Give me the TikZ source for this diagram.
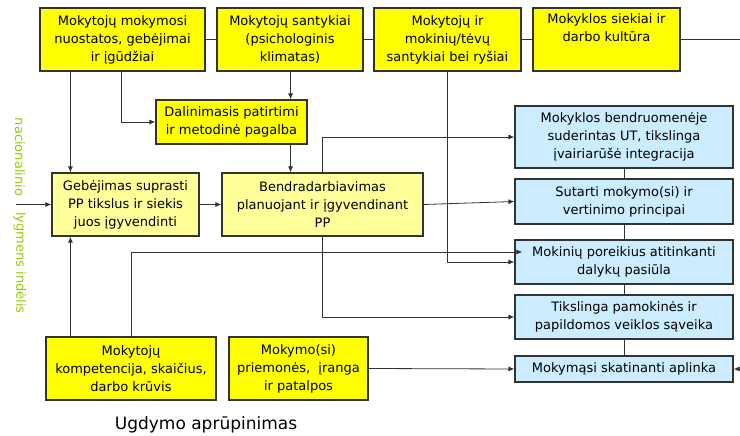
\documentclass[tikz,border=0pt]{standalone}
\usepackage{fontspec}
\setmainfont{DejaVu Sans}
\usetikzlibrary{arrows.meta}
\definecolor{ryellow}{HTML}{FFFF00}
\definecolor{pyellow}{HTML}{FFFF99}
\definecolor{lblue}{HTML}{CCECFF}
\definecolor{lgreen}{HTML}{99CC00}
\definecolor{dgray}{HTML}{333333}
\tikzset{box/.style = {draw = dgray, line width = 1.2pt, inner sep = 0, align = center, font = \fontsize{13}{18}\selectfont}}
\tikzset{ybox/.style = {box, fill = ryellow}}
\tikzset{pbox/.style = {box, fill = pyellow}}
\tikzset{bbox/.style = {box, fill = lblue, minimum width = 218}}
\tikzset{gtext/.style = {text = lgreen, rotate = -90, inner sep = 0, font = \fontsize{13}{18}\selectfont}}
\tikzset{conn/.style = {draw = dgray, line width = 0.8pt}}
\tikzset{arr/.style = {conn, -{Latex[length = 6pt, width = 5pt]}}}

\begin{document}
\begin{tikzpicture}[x = 1pt, y = -1pt]
      \useasboundingbox (0, 0) rectangle (740, 436);

      % top row
      \node [ybox, minimum width = 165, minimum height = 63] (nuostatos) at (122.5, 39.5) {Mokytojų mokymosi\\nuostatos, gebėjimai\\ir įgūdžiai};
      \node [ybox, minimum width = 146, minimum height = 63] (santykiai) at (290, 39.5) {Mokytojų santykiai\\(psichologinis\\klimatas)};
      \node [ybox, minimum width = 147, minimum height = 63] (rysiai) at (447.5, 39.5) {Mokytojų ir\\mokinių/tėvų\\santykiai bei ryšiai};
      \node [ybox, minimum width = 147, minimum height = 63] (siekiai) at (606.5, 39.5) {Mokyklos siekiai ir\\darbo kultūra\\\strut};

      % middle
      \node [ybox, minimum width = 151, minimum height = 44] (dalinimasis) at (231.5, 122) {Dalinimasis patirtimi\\ir metodinė pagalba};
      \node [pbox, minimum width = 147, minimum height = 63] (gebejimas) at (125.5, 204.5) {Gebėjimas suprasti\\PP tikslus ir siekis\\juos įgyvendinti};
      \node [pbox, minimum width = 201, minimum height = 63] (bendradarb) at (322.5, 204.5) {Bendradarbiavimas\\planuojant ir įgyvendinant\\PP};

      % results
      \node [bbox, minimum height = 62] (ut) at (624, 137) {Mokyklos bendruomenėje\\suderintas UT, tikslinga\\įvairiarūšė integracija};
      \node [bbox, minimum height = 45] (principai) at (624, 201.5) {Sutarti mokymo(si) ir\\vertinimo principai};
      \node [bbox, minimum height = 44] (pasiula) at (624, 262) {Mokinių poreikius atitinkanti\\dalykų pasiūla};
      \node [bbox, minimum height = 44] (saveika) at (624, 317) {Tikslinga pamokinės ir\\papildomos veiklos sąveika};
      \node [bbox, minimum height = 26] (aplinka) at (624, 369) {Mokymąsi skatinanti aplinka};

      % bottom row
      \node [ybox, minimum width = 170, minimum height = 63] (kompetencija) at (131, 368.5) {Mokytojų\\kompetencija, skaičius,\\darbo krūvis};
      \node [ybox, minimum width = 139, minimum height = 63] (priemones) at (298.5, 368.5) {Mokymo(si)\\priemonės, \ įranga\\ir patalpos};
      \node [font = \fontsize{17}{20}\selectfont] (aprupinimas) at (206, 425) {Ugdymo aprūpinimas};

      % left side
      \node [gtext] (nacionalinio) at (20, 157) {nacionalinio};
      \node [gtext] (indelis) at (20, 263) {lygmens indėlis};
      \coordinate (nacin) at (16, 204.5);
      \coordinate (desine) at (740, 39.5);
      \coordinate (atgal) at (740, 369);

      \draw [conn] (nuostatos) -- (santykiai);
      \draw [conn] (santykiai) -- (rysiai);
      \draw [conn] (rysiai) -- (siekiai);
      \draw [conn] (siekiai) -- (desine);
      \foreach \a/\b in {ut/principai, principai/pasiula, pasiula/saveika, saveika/aplinka} {
        \draw [conn] (\a.south) -- (\b.north);
      }

      \draw [arr] ([xshift = 19pt]gebejimas.north west |- nuostatos.south) -- ([xshift = 19pt]gebejimas.north west);
      \draw [arr] ([xshift = 82pt]nuostatos.south west) |- (dalinimasis.west);
      \draw [arr] ([xshift = -17pt]dalinimasis.north east |- santykiai.south) -- ([xshift = -17pt]dalinimasis.north east);
      \draw [arr] ([xshift = -17pt]dalinimasis.south east) -- ([xshift = -17pt]dalinimasis.south east |- bendradarb.north);
      \draw [arr] (nacin) -- (gebejimas.west);
      \draw [arr] (gebejimas.east) -- (bendradarb.west);
      \draw [arr] ([xshift = 101pt]bendradarb.north west) |- (ut.west);
      \draw [arr] (bendradarb.east) -- (principai.west);
      \draw [arr] (rysiai.south) |- (pasiula.west);
      \draw [arr] ([xshift = 86pt]kompetencija.north west) |- ([xshift = 8pt, yshift = 10pt]pasiula.west);
      \draw [arr] ([xshift = 101pt]bendradarb.south west) |- (saveika.west);
      \draw [arr] ([xshift = 25pt]kompetencija.north west) -- ([xshift = 19pt]gebejimas.south west);
      \draw [arr] (priemones.east) -- (aplinka.west);
      \draw [arr] (atgal) -- (aplinka.east);
    \end{tikzpicture}
\end{document}
